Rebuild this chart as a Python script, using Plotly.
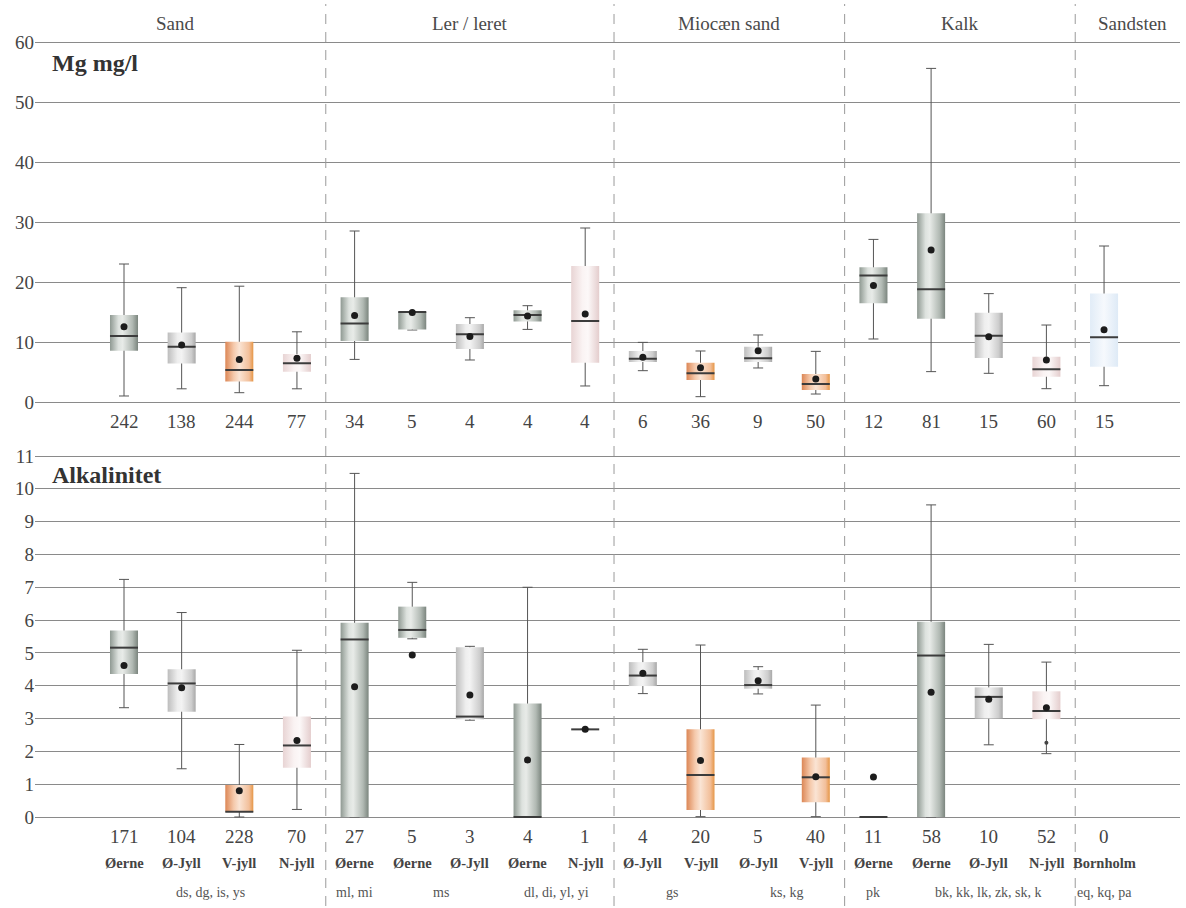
import plotly.graph_objects as go

# ---------------- data ----------------
groups = ["Sand", "Ler / leret", "Miocæn sand", "Kalk", "Sandsten"]
group_pos = [0.9, 6.0, 10.5, 14.5, 17.5]
separators = [3.5, 8.5, 12.5, 16.5]

regions = ["Øerne", "Ø-Jyll", "V-jyll", "N-jyll", "Øerne", "Øerne", "Ø-Jyll", "Øerne", "N-jyll",
           "Ø-Jyll", "V-jyll", "Ø-Jyll", "V-jyll", "Øerne", "Øerne", "Ø-Jyll", "N-jyll", "Bornholm"]
region_labels = ["Øerne", "Ø-Jyll", "V-jyll", "N-jyll", "Øerne", "Øerne", "Ø-Jyll", "Øerne", "N-jyll",
                 "Ø-Jyll", "V-jyll", "Ø-Jyll", "V-jyll", "Øerne", "Øerne", "Ø-Jyll", "N-jyll", "Bornholm"]
litho_labels = ["ds, dg, is, ys", "ml, mi", "ms", "dl, di, yl, yi", "gs", "ks, kg", "pk",
                "bk, kk, lk, zk, sk, k", "eq, kq, pa"]
litho_pos = [1.5, 4, 5.5, 7.5, 9.5, 11.5, 13, 15, 17]

# Mg mg/l
mg_n = [242, 138, 244, 77, 34, 5, 4, 4, 4, 6, 36, 9, 50, 12, 81, 15, 60, 15]
mg_low = [1.0, 2.2, 1.55, 2.2, 7.1, 12.0, 7.0, 12.1, 2.67, 5.22, 0.89, 5.67, 1.33, 10.5, 5.06, 4.78, 2.22, 2.72]
mg_q1 = [8.55, 6.4, 3.4, 5.05, 10.15, 12.1, 8.85, 13.4, 6.55, 6.67, 3.67, 6.67, 2.0, 16.44, 13.89, 7.33, 4.22, 5.89]
mg_med = [11.0, 9.2, 5.33, 6.45, 13.1, 15.0, 11.3, 14.5, 13.5, 7.22, 4.78, 7.28, 3.0, 21.1, 18.78, 11.06, 5.44, 10.78]
mg_q3 = [14.5, 11.6, 10.05, 8.0, 17.45, 15.0, 13.0, 15.3, 22.67, 8.5, 6.56, 9.22, 4.67, 22.44, 31.44, 14.89, 7.56, 18.1]
mg_high = [23.0, 19.05, 19.3, 11.7, 28.5, 15.0, 14.05, 16.05, 29.0, 9.94, 8.5, 11.17, 8.44, 27.1, 55.6, 18.06, 12.83, 26.0]
mg_mean = [12.55, 9.5, 7.1, 7.3, 14.4, 14.9, 10.9, 14.33, 14.67, 7.44, 5.72, 8.56, 3.83, 19.4, 25.33, 10.89, 7.0, 12.06]

# Alkalinitet
alk_n = [171, 104, 228, 70, 27, 5, 3, 4, 1, 4, 20, 5, 40, 11, 58, 10, 52, 0]
alk_low = [3.33, 1.47, 0.0, 0.23, 0.0, 5.43, 2.95, 0.0, 2.67, 3.76, 0.01, 3.75, 0.01, 0.0, 0.0, 2.2, 1.93, None]
alk_q1 = [4.36, 3.21, 0.16, 1.5, 0.0, 5.46, 2.98, 0.0, 2.67, 3.99, 0.21, 3.91, 0.45, 0.0, 0.0, 3.0, 2.98, None]
alk_med = [5.16, 4.07, 0.16, 2.18, 5.41, 5.70, 3.06, 0.0, 2.67, 4.31, 1.28, 4.02, 1.21, 0.0, 4.92, 3.66, 3.23, None]
alk_q3 = [5.68, 4.5, 0.975, 3.06, 5.92, 6.41, 5.17, 3.46, 2.67, 4.72, 2.67, 4.48, 1.81, 0.0, 5.95, 3.95, 3.83, None]
alk_high = [7.24, 6.23, 2.21, 5.08, 10.47, 7.15, 5.2, 7.0, 2.67, 5.11, 5.24, 4.58, 3.41, 0.0, 9.51, 5.26, 4.72, None]
alk_mean = [4.62, 3.94, 0.80, 2.33, 3.97, 4.94, 3.72, 1.74, 2.67, 4.38, 1.72, 4.15, 1.23, 1.22, 3.8, 3.59, 3.33, None]
alk_extra_x = [16]
alk_extra_y = [2.26]

# ---------------- styles ----------------
SERIF = "Liberation Serif, Times New Roman, serif"
colorscales = {
    "Øerne": [[0, "#8f9992"], [0.3, "#dde2de"], [0.45, "#e8ebe8"], [0.8, "#b1b9b3"], [1, "#7b857e"]],
    "Ø-Jyll": [[0, "#bdbdbd"], [0.35, "#eeeeee"], [0.5, "#f3f3f3"], [0.85, "#cdcdcd"], [1, "#a8a8a8"]],
    "V-jyll": [[0, "#dc8756"], [0.3, "#f5c9ab"], [0.5, "#fae4d4"], [0.85, "#f2bf9a"], [1, "#e69646"]],
    "N-jyll": [[0, "#e8d4d4"], [0.4, "#faf3f3"], [0.6, "#fcf8f8"], [1, "#e4cdcd"]],
    "Bornholm": [[0, "#e1ecf7"], [0.5, "#f6f9fd"], [1, "#deeaf6"]],
}
BOXW = 0.243
W = 1186
H = 908


def py(p):
    return 1 - p / H


fig = go.Figure()


def add_panel(xa, ya, low, q1, med, q3, high, mean):
    xs = [i for i in range(len(med)) if med[i] is not None]
    # whiskers via error bars
    fig.add_trace(go.Scatter(
        x=xs, y=[med[i] for i in xs], mode="markers",
        marker=dict(size=1, color="rgba(0,0,0,0)"),
        error_y=dict(type="data", symmetric=False,
                     array=[high[i] - med[i] for i in xs],
                     arrayminus=[med[i] - low[i] for i in xs],
                     color="#555555", thickness=1, width=5),
        xaxis=xa, yaxis=ya, hoverinfo="skip", showlegend=False))
    # boxes with gradient fill
    for i in xs:
        if q3[i] - q1[i] <= 0:
            continue
        fig.add_trace(go.Scatter(
            x=[i - BOXW, i + BOXW, i + BOXW, i - BOXW, i - BOXW],
            y=[q1[i], q1[i], q3[i], q3[i], q1[i]],
            mode="none", fill="toself",
            fillgradient=dict(type="horizontal", colorscale=colorscales[regions[i]]),
            xaxis=xa, yaxis=ya, hoverinfo="skip", showlegend=False))
    # medians
    mx, my = [], []
    for i in xs:
        mx += [i - BOXW, i + BOXW, None]
        my += [med[i], med[i], None]
    fig.add_trace(go.Scatter(x=mx, y=my, mode="lines",
                             line=dict(color="#3c3c3c", width=2),
                             xaxis=xa, yaxis=ya, hoverinfo="skip", showlegend=False))
    # means
    fig.add_trace(go.Scatter(x=xs, y=[mean[i] for i in xs], mode="markers",
                             marker=dict(size=7, color="#1c1c1c"),
                             xaxis=xa, yaxis=ya, hoverinfo="skip", showlegend=False))


add_panel("x", "y", mg_low, mg_q1, mg_med, mg_q3, mg_high, mg_mean)
add_panel("x2", "y2", alk_low, alk_q1, alk_med, alk_q3, alk_high, alk_mean)
fig.add_trace(go.Scatter(x=alk_extra_x, y=alk_extra_y, mode="markers",
                         marker=dict(size=4, color="#444444"),
                         xaxis="x2", yaxis="y2", hoverinfo="skip", showlegend=False))

ML, MR = 35, 6
pxu = 57.65
x0 = -(124 - ML) / pxu
x1 = x0 + (W - ML - MR) / pxu

# y axes: small padding so that the edge grid lines (0 / top) are drawn
ppu1 = 6.0
pad1 = 0.3
ppu2 = 361 / 11
pad2 = 0.06

axis_common = dict(showgrid=False, zeroline=False, showticklabels=False, range=[x0, x1],
                   domain=[0, 1], showline=False, ticks="", automargin=False)
yfont = dict(family=SERIF, size=19, color="#444444")
fig.update_layout(
    width=W, height=H, autosize=False,
    margin=dict(l=ML, r=MR, t=0, b=0, pad=0, autoexpand=False),
    paper_bgcolor="white", plot_bgcolor="white",
    showlegend=False,
    xaxis=dict(anchor="y", **axis_common),
    xaxis2=dict(anchor="y2", **axis_common),
    yaxis=dict(domain=[py(402 + pad1 * ppu1), py(42 - pad1 * ppu1)], range=[-pad1, 60 + pad1],
               dtick=10, tick0=0,
               showgrid=True, gridcolor="#8a8a8a", gridwidth=1, zeroline=False,
               tickfont=yfont, ticks="", showline=False, anchor="x", automargin=False),
    yaxis2=dict(domain=[py(817 + pad2 * ppu2), py(456 - pad2 * ppu2)], range=[-pad2, 11 + pad2],
                dtick=1, tick0=0,
                showgrid=True, gridcolor="#8a8a8a", gridwidth=1, zeroline=False,
                tickfont=yfont, ticks="", showline=False, anchor="x2", automargin=False),
)

shapes = []
for s in separators:
    shapes.append(dict(type="line", xref="x", yref="paper", x0=s, x1=s,
                       y0=py(906), y1=py(4),
                       line=dict(color="#9a9a9a", width=1, dash="10px,8px")))
fig.update_layout(shapes=shapes)

ann = []
for g, gp in zip(groups, group_pos):
    ann.append(dict(x=gp, y=py(23), xref="x", yref="paper", text=g, showarrow=False,
                    yanchor="middle", font=dict(family=SERIF, size=19, color="#4a4a4a")))
ann.append(dict(x=(50 - ML) / (W - ML - MR), y=py(63), xref="paper", yref="paper",
                text="<b>Mg mg/l</b>", showarrow=False, xanchor="left", yanchor="middle",
                font=dict(family=SERIF, size=24, color="#333333")))
ann.append(dict(x=(50 - ML) / (W - ML - MR), y=py(475), xref="paper", yref="paper",
                text="<b>Alkalinitet</b>", showarrow=False, xanchor="left", yanchor="middle",
                font=dict(family=SERIF, size=24, color="#333333")))
for i, n in enumerate(mg_n):
    ann.append(dict(x=i, y=py(421), xref="x", yref="paper", text=str(n), showarrow=False,
                    yanchor="middle", font=dict(family=SERIF, size=19, color="#444444")))
for i, n in enumerate(alk_n):
    ann.append(dict(x=i, y=py(836), xref="x", yref="paper", text=str(n), showarrow=False,
                    yanchor="middle", font=dict(family=SERIF, size=19, color="#444444")))
for i, r in enumerate(region_labels):
    ann.append(dict(x=i, y=py(863), xref="x", yref="paper", text="<b>" + r + "</b>", showarrow=False,
                    yanchor="middle", font=dict(family=SERIF, size=14.5, color="#444444")))
for t, p in zip(litho_labels, litho_pos):
    ann.append(dict(x=p, y=py(892), xref="x", yref="paper", text=t, showarrow=False,
                    yanchor="middle", font=dict(family=SERIF, size=14, color="#555555")))
fig.update_layout(annotations=ann)

fig.write_html("out.html", config={"displayModeBar": False},
               post_script="document.body.style.margin='0px';document.body.style.overflow='hidden';")
